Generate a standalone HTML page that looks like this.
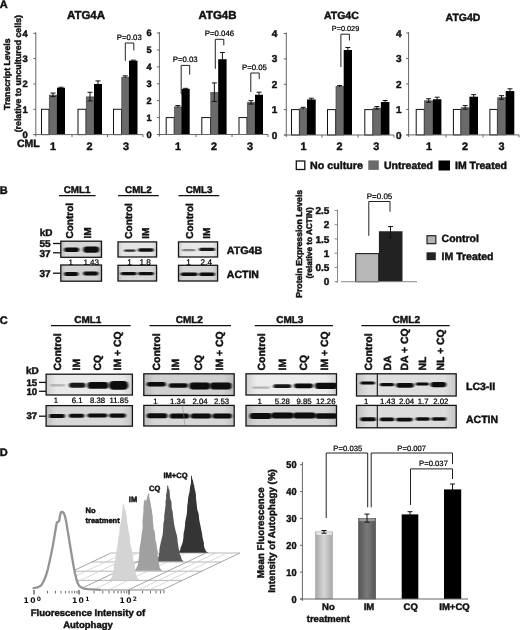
<!DOCTYPE html>
<html><head><meta charset="utf-8"><title>Figure</title>
<style>
html,body{margin:0;padding:0;background:#fff;}
body{width:520px;height:630px;overflow:hidden;}
svg{display:block;filter:blur(0.45px);}
text{font-family:"Liberation Sans",Arial,sans-serif;text-rendering:geometricPrecision;}
</style></head><body>
<svg width="520" height="630" viewBox="0 0 520 630">
<defs>
<filter id="b1" x="-20%" y="-80%" width="140%" height="260%"><feGaussianBlur stdDeviation="0.8 0.55"/></filter>
<linearGradient id="eg" x1="0" x2="1" y1="0" y2="0"><stop offset="0" stop-color="#000" stop-opacity="0.12"/><stop offset="0.12" stop-color="#000" stop-opacity="0"/><stop offset="0.88" stop-color="#000" stop-opacity="0"/><stop offset="1" stop-color="#000" stop-opacity="0.1"/></linearGradient>
</defs>
<rect width="520" height="630" fill="#fff"/>
<g id="panelA">
<text x="-0.3" y="8.3" font-size="11" font-weight="bold" stroke="#111" stroke-width="0.45" text-anchor="start" fill="#111" >A</text>
<text x="10.5" y="74.2" font-size="8.7" font-weight="bold" stroke="#111" stroke-width="0.45" text-anchor="middle" fill="#111" transform="rotate(-90 10.5 74.2)" >Transcript Levels</text>
<text x="20.8" y="73.7" font-size="8.8" font-weight="bold" stroke="#111" stroke-width="0.45" text-anchor="middle" fill="#111" transform="rotate(-90 20.8 73.7)" >(relative to uncultured cells)</text>
<rect x="41.50" y="109.27" width="7.50" height="25.33" fill="#fff" stroke="#111" stroke-width="1" />
<rect x="49.30" y="95.14" width="7.70" height="39.46" fill="#6a6a6a" stroke="#484848" stroke-width="0.7" />
<line x1="53.0" y1="93.067" x2="53.0" y2="96.6125" stroke="#111" stroke-width="1" />
<line x1="50.5" y1="93.067" x2="55.5" y2="93.067" stroke="#111" stroke-width="1" />
<line x1="50.5" y1="96.6125" x2="55.5" y2="96.6125" stroke="#111" stroke-width="1" />
<rect x="57.00" y="87.75" width="8.00" height="46.85" fill="#000" stroke="none" stroke-width="1" />
<line x1="61.0" y1="87.24225" x2="61.0" y2="88.25525" stroke="#111" stroke-width="1" />
<line x1="58.5" y1="87.24225" x2="63.5" y2="87.24225" stroke="#111" stroke-width="1" />
<rect x="78.00" y="109.27" width="8.00" height="25.33" fill="#fff" stroke="#111" stroke-width="1" />
<rect x="86.30" y="96.91" width="7.70" height="37.69" fill="#6a6a6a" stroke="#484848" stroke-width="0.7" />
<line x1="90.0" y1="92.30725" x2="90.0" y2="100.91775" stroke="#111" stroke-width="1" />
<line x1="87.5" y1="92.30725" x2="92.5" y2="92.30725" stroke="#111" stroke-width="1" />
<line x1="87.5" y1="100.91775" x2="92.5" y2="100.91775" stroke="#111" stroke-width="1" />
<rect x="94.00" y="83.95" width="8.00" height="50.65" fill="#000" stroke="none" stroke-width="1" />
<line x1="98.0" y1="80.91099999999999" x2="98.0" y2="85.94999999999999" stroke="#111" stroke-width="1" />
<line x1="95.5" y1="80.91099999999999" x2="100.5" y2="80.91099999999999" stroke="#111" stroke-width="1" />
<rect x="113.50" y="109.27" width="8.00" height="25.33" fill="#fff" stroke="#111" stroke-width="1" />
<rect x="121.80" y="77.16" width="7.20" height="57.44" fill="#6a6a6a" stroke="#484848" stroke-width="0.7" />
<line x1="125.25" y1="75.846" x2="125.25" y2="77.87200000000001" stroke="#111" stroke-width="1" />
<line x1="122.75" y1="75.846" x2="127.75" y2="75.846" stroke="#111" stroke-width="1" />
<rect x="129.00" y="60.65" width="8.50" height="73.95" fill="#000" stroke="none" stroke-width="1" />
<line x1="133.25" y1="60.144499999999994" x2="133.25" y2="61.1575" stroke="#111" stroke-width="1" />
<line x1="130.75" y1="60.144499999999994" x2="135.75" y2="60.144499999999994" stroke="#111" stroke-width="1" />
<line x1="35.8" y1="32.3" x2="35.8" y2="136.6" stroke="#666" stroke-width="1" />
<line x1="33.8" y1="134.6" x2="143" y2="134.6" stroke="#666" stroke-width="1" />
<line x1="33.3" y1="134.6" x2="35.8" y2="134.6" stroke="#666" stroke-width="1" />
<text x="27.799999999999997" y="137.98399999999998" font-size="9.4" font-weight="bold" stroke="#111" stroke-width="0.45" text-anchor="end" fill="#111" >0</text>
<line x1="33.3" y1="109.27499999999999" x2="35.8" y2="109.27499999999999" stroke="#666" stroke-width="1" />
<text x="27.799999999999997" y="112.65899999999999" font-size="9.4" font-weight="bold" stroke="#111" stroke-width="0.45" text-anchor="end" fill="#111" >1</text>
<line x1="33.3" y1="83.94999999999999" x2="35.8" y2="83.94999999999999" stroke="#666" stroke-width="1" />
<text x="27.799999999999997" y="87.33399999999999" font-size="9.4" font-weight="bold" stroke="#111" stroke-width="0.45" text-anchor="end" fill="#111" >2</text>
<line x1="33.3" y1="58.625" x2="35.8" y2="58.625" stroke="#666" stroke-width="1" />
<text x="27.799999999999997" y="62.009" font-size="9.4" font-weight="bold" stroke="#111" stroke-width="0.45" text-anchor="end" fill="#111" >3</text>
<line x1="33.3" y1="33.3" x2="35.8" y2="33.3" stroke="#666" stroke-width="1" />
<text x="27.799999999999997" y="36.684" font-size="9.4" font-weight="bold" stroke="#111" stroke-width="0.45" text-anchor="end" fill="#111" >4</text>
<line x1="72" y1="134.6" x2="72" y2="137.1" stroke="#666" stroke-width="1" />
<line x1="107.5" y1="134.6" x2="107.5" y2="137.1" stroke="#666" stroke-width="1" />
<line x1="143" y1="134.6" x2="143" y2="137.1" stroke="#666" stroke-width="1" />
<text x="53" y="150.3" font-size="10.8" font-weight="bold" stroke="#111" stroke-width="0.45" text-anchor="middle" fill="#111" >1</text>
<text x="89.5" y="150.3" font-size="10.8" font-weight="bold" stroke="#111" stroke-width="0.45" text-anchor="middle" fill="#111" >2</text>
<text x="126" y="150.3" font-size="10.8" font-weight="bold" stroke="#111" stroke-width="0.45" text-anchor="middle" fill="#111" >3</text>
<text x="86" y="19.4" font-size="11.5" font-weight="bold" stroke="#111" stroke-width="0.45" text-anchor="middle" fill="#111" >ATG4A</text>
<text x="17" y="146.6" font-size="10.5" font-weight="bold" stroke="#111" stroke-width="0.45" text-anchor="start" fill="#111" >CML</text>
<polyline points="125.3,60.8 125.3,43.0 133.8,43.0 133.8,50.4" fill="none" stroke="#222" stroke-width="1" />
<text x="129.3" y="39.8" font-size="7.8" stroke="#000" stroke-width="0.22" text-anchor="middle" fill="#000" >P=0.03</text>
<rect x="166.20" y="117.58" width="8.00" height="16.92" fill="#fff" stroke="#111" stroke-width="1" />
<rect x="174.50" y="106.89" width="7.00" height="27.61" fill="#6a6a6a" stroke="#484848" stroke-width="0.7" />
<line x1="177.85" y1="105.5725" x2="177.85" y2="107.6025" stroke="#111" stroke-width="1" />
<line x1="175.35" y1="105.5725" x2="180.35" y2="105.5725" stroke="#111" stroke-width="1" />
<rect x="181.50" y="88.82" width="8.20" height="45.68" fill="#000" stroke="none" stroke-width="1" />
<line x1="185.6" y1="88.3175" x2="185.6" y2="89.33249999999998" stroke="#111" stroke-width="1" />
<line x1="183.1" y1="88.3175" x2="188.1" y2="88.3175" stroke="#111" stroke-width="1" />
<rect x="201.80" y="117.58" width="8.70" height="16.92" fill="#fff" stroke="#111" stroke-width="1" />
<rect x="210.80" y="92.51" width="7.40" height="41.99" fill="#6a6a6a" stroke="#484848" stroke-width="0.7" />
<line x1="214.35" y1="82.90416666666665" x2="214.35" y2="101.5125" stroke="#111" stroke-width="1" />
<line x1="211.85" y1="82.90416666666665" x2="216.85" y2="82.90416666666665" stroke="#111" stroke-width="1" />
<line x1="211.85" y1="101.5125" x2="216.85" y2="101.5125" stroke="#111" stroke-width="1" />
<rect x="218.20" y="59.22" width="8.40" height="75.28" fill="#000" stroke="none" stroke-width="1" />
<line x1="222.39999999999998" y1="52.454166666666666" x2="222.39999999999998" y2="61.22083333333333" stroke="#111" stroke-width="1" />
<line x1="219.89999999999998" y1="52.454166666666666" x2="224.89999999999998" y2="52.454166666666666" stroke="#111" stroke-width="1" />
<rect x="239.00" y="117.58" width="8.00" height="16.92" fill="#fff" stroke="#111" stroke-width="1" />
<rect x="247.30" y="102.66" width="7.70" height="31.84" fill="#6a6a6a" stroke="#484848" stroke-width="0.7" />
<line x1="251.0" y1="100.66666666666667" x2="251.0" y2="104.05" stroke="#111" stroke-width="1" />
<line x1="248.5" y1="100.66666666666667" x2="253.5" y2="100.66666666666667" stroke="#111" stroke-width="1" />
<line x1="248.5" y1="104.05" x2="253.5" y2="104.05" stroke="#111" stroke-width="1" />
<rect x="255.00" y="94.75" width="8.00" height="39.75" fill="#000" stroke="none" stroke-width="1" />
<line x1="259.0" y1="92.20833333333334" x2="259.0" y2="96.74583333333334" stroke="#111" stroke-width="1" />
<line x1="256.5" y1="92.20833333333334" x2="261.5" y2="92.20833333333334" stroke="#111" stroke-width="1" />
<line x1="159.4" y1="32" x2="159.4" y2="136.5" stroke="#666" stroke-width="1" />
<line x1="157.4" y1="134.5" x2="268" y2="134.5" stroke="#666" stroke-width="1" />
<line x1="156.9" y1="134.5" x2="159.4" y2="134.5" stroke="#666" stroke-width="1" />
<text x="151.6" y="137.812" font-size="9.2" font-weight="bold" stroke="#111" stroke-width="0.45" text-anchor="end" fill="#111" >0</text>
<line x1="156.9" y1="117.58333333333333" x2="159.4" y2="117.58333333333333" stroke="#666" stroke-width="1" />
<text x="151.6" y="120.89533333333333" font-size="9.2" font-weight="bold" stroke="#111" stroke-width="0.45" text-anchor="end" fill="#111" >1</text>
<line x1="156.9" y1="100.66666666666666" x2="159.4" y2="100.66666666666666" stroke="#666" stroke-width="1" />
<text x="151.6" y="103.97866666666665" font-size="9.2" font-weight="bold" stroke="#111" stroke-width="0.45" text-anchor="end" fill="#111" >2</text>
<line x1="156.9" y1="83.75" x2="159.4" y2="83.75" stroke="#666" stroke-width="1" />
<text x="151.6" y="87.062" font-size="9.2" font-weight="bold" stroke="#111" stroke-width="0.45" text-anchor="end" fill="#111" >3</text>
<line x1="156.9" y1="66.83333333333333" x2="159.4" y2="66.83333333333333" stroke="#666" stroke-width="1" />
<text x="151.6" y="70.14533333333333" font-size="9.2" font-weight="bold" stroke="#111" stroke-width="0.45" text-anchor="end" fill="#111" >4</text>
<line x1="156.9" y1="49.91666666666666" x2="159.4" y2="49.91666666666666" stroke="#666" stroke-width="1" />
<text x="151.6" y="53.228666666666655" font-size="9.2" font-weight="bold" stroke="#111" stroke-width="0.45" text-anchor="end" fill="#111" >5</text>
<line x1="156.9" y1="33.0" x2="159.4" y2="33.0" stroke="#666" stroke-width="1" />
<text x="151.6" y="36.312" font-size="9.2" font-weight="bold" stroke="#111" stroke-width="0.45" text-anchor="end" fill="#111" >6</text>
<line x1="196" y1="134.5" x2="196" y2="137.0" stroke="#666" stroke-width="1" />
<line x1="232" y1="134.5" x2="232" y2="137.0" stroke="#666" stroke-width="1" />
<line x1="268" y1="134.5" x2="268" y2="137.0" stroke="#666" stroke-width="1" />
<text x="178" y="150.3" font-size="10.8" font-weight="bold" stroke="#111" stroke-width="0.45" text-anchor="middle" fill="#111" >1</text>
<text x="214" y="150.3" font-size="10.8" font-weight="bold" stroke="#111" stroke-width="0.45" text-anchor="middle" fill="#111" >2</text>
<text x="250" y="150.3" font-size="10.8" font-weight="bold" stroke="#111" stroke-width="0.45" text-anchor="middle" fill="#111" >3</text>
<text x="217.5" y="19" font-size="11.5" font-weight="bold" stroke="#111" stroke-width="0.45" text-anchor="middle" fill="#111" >ATG4B</text>
<polyline points="181.2,94.2 181.2,65.4 189.7,65.4 189.7,74.6" fill="none" stroke="#222" stroke-width="1" />
<text x="185.2" y="62.3" font-size="7.8" stroke="#000" stroke-width="0.22" text-anchor="middle" fill="#000" >P=0.03</text>
<polyline points="215.3,68.8 215.3,39.3 223.8,39.3 223.8,45.3" fill="none" stroke="#222" stroke-width="1" />
<text x="219.5" y="36.3" font-size="7.8" stroke="#000" stroke-width="0.22" text-anchor="middle" fill="#000" >P=0.046</text>
<polyline points="250.8,92.0 250.8,73.0 259.2,73.0 259.2,79.2" fill="none" stroke="#222" stroke-width="1" />
<text x="254.5" y="70" font-size="7.8" stroke="#000" stroke-width="0.22" text-anchor="middle" fill="#000" >P=0.05</text>
<rect x="291.50" y="109.62" width="7.90" height="25.38" fill="#fff" stroke="#111" stroke-width="1" />
<rect x="299.70" y="108.66" width="7.30" height="26.34" fill="#6a6a6a" stroke="#484848" stroke-width="0.7" />
<line x1="303.2" y1="107.34125" x2="303.2" y2="109.37125" stroke="#111" stroke-width="1" />
<line x1="300.7" y1="107.34125" x2="305.7" y2="107.34125" stroke="#111" stroke-width="1" />
<rect x="307.00" y="99.47" width="8.70" height="35.53" fill="#000" stroke="none" stroke-width="1" />
<line x1="311.35" y1="98.20625" x2="311.35" y2="100.74374999999999" stroke="#111" stroke-width="1" />
<line x1="308.85" y1="98.20625" x2="313.85" y2="98.20625" stroke="#111" stroke-width="1" />
<rect x="327.50" y="109.62" width="8.20" height="25.38" fill="#fff" stroke="#111" stroke-width="1" />
<rect x="336.00" y="86.58" width="7.70" height="48.42" fill="#6a6a6a" stroke="#484848" stroke-width="0.7" />
<line x1="339.7" y1="85.51875" x2="339.7" y2="87.04125" stroke="#111" stroke-width="1" />
<line x1="337.2" y1="85.51875" x2="342.2" y2="85.51875" stroke="#111" stroke-width="1" />
<rect x="343.70" y="49.99" width="8.30" height="85.01" fill="#000" stroke="none" stroke-width="1" />
<line x1="347.85" y1="47.45624999999999" x2="347.85" y2="51.99374999999999" stroke="#111" stroke-width="1" />
<line x1="345.35" y1="47.45624999999999" x2="350.35" y2="47.45624999999999" stroke="#111" stroke-width="1" />
<rect x="364.80" y="109.62" width="8.10" height="25.38" fill="#fff" stroke="#111" stroke-width="1" />
<rect x="373.20" y="108.15" width="7.70" height="26.85" fill="#6a6a6a" stroke="#484848" stroke-width="0.7" />
<line x1="376.9" y1="106.58" x2="376.9" y2="109.11749999999999" stroke="#111" stroke-width="1" />
<line x1="374.4" y1="106.58" x2="379.4" y2="106.58" stroke="#111" stroke-width="1" />
<line x1="374.4" y1="109.11749999999999" x2="379.4" y2="109.11749999999999" stroke="#111" stroke-width="1" />
<rect x="380.90" y="102.01" width="8.50" height="32.99" fill="#000" stroke="none" stroke-width="1" />
<line x1="385.15" y1="100.49" x2="385.15" y2="103.53499999999998" stroke="#111" stroke-width="1" />
<line x1="382.65" y1="100.49" x2="387.65" y2="100.49" stroke="#111" stroke-width="1" />
<line x1="286.3" y1="32.5" x2="286.3" y2="137" stroke="#666" stroke-width="1" />
<line x1="284.3" y1="135" x2="394" y2="135" stroke="#666" stroke-width="1" />
<line x1="283.8" y1="135.0" x2="286.3" y2="135.0" stroke="#666" stroke-width="1" />
<text x="277.3" y="138.6" font-size="10" font-weight="bold" stroke="#111" stroke-width="0.45" text-anchor="end" fill="#111" >0</text>
<line x1="283.8" y1="109.625" x2="286.3" y2="109.625" stroke="#666" stroke-width="1" />
<text x="277.3" y="113.225" font-size="10" font-weight="bold" stroke="#111" stroke-width="0.45" text-anchor="end" fill="#111" >1</text>
<line x1="283.8" y1="84.25" x2="286.3" y2="84.25" stroke="#666" stroke-width="1" />
<text x="277.3" y="87.85" font-size="10" font-weight="bold" stroke="#111" stroke-width="0.45" text-anchor="end" fill="#111" >2</text>
<line x1="283.8" y1="58.875" x2="286.3" y2="58.875" stroke="#666" stroke-width="1" />
<text x="277.3" y="62.475" font-size="10" font-weight="bold" stroke="#111" stroke-width="0.45" text-anchor="end" fill="#111" >3</text>
<line x1="283.8" y1="33.5" x2="286.3" y2="33.5" stroke="#666" stroke-width="1" />
<text x="277.3" y="37.1" font-size="10" font-weight="bold" stroke="#111" stroke-width="0.45" text-anchor="end" fill="#111" >4</text>
<line x1="322" y1="135" x2="322" y2="137.5" stroke="#666" stroke-width="1" />
<line x1="358" y1="135" x2="358" y2="137.5" stroke="#666" stroke-width="1" />
<line x1="394" y1="135" x2="394" y2="137.5" stroke="#666" stroke-width="1" />
<text x="303.4" y="150.3" font-size="10.8" font-weight="bold" stroke="#111" stroke-width="0.45" text-anchor="middle" fill="#111" >1</text>
<text x="339.4" y="150.3" font-size="10.8" font-weight="bold" stroke="#111" stroke-width="0.45" text-anchor="middle" fill="#111" >2</text>
<text x="376.3" y="150.3" font-size="10.8" font-weight="bold" stroke="#111" stroke-width="0.45" text-anchor="middle" fill="#111" >3</text>
<text x="341.4" y="19.2" font-size="10.5" font-weight="bold" stroke="#111" stroke-width="0.45" text-anchor="middle" fill="#111" >ATG4C</text>
<polyline points="340.9,67.0 340.9,34.2 349.4,34.2 349.4,40.5" fill="none" stroke="#222" stroke-width="1" />
<text x="345.5" y="31" font-size="7.3" stroke="#000" stroke-width="0.22" text-anchor="middle" fill="#000" >P=0.029</text>
<rect x="416.20" y="109.43" width="8.10" height="25.47" fill="#fff" stroke="#111" stroke-width="1" />
<rect x="424.60" y="100.81" width="8.30" height="34.09" fill="#6a6a6a" stroke="#484848" stroke-width="0.7" />
<line x1="428.6" y1="98.7255" x2="428.6" y2="102.29199999999999" stroke="#111" stroke-width="1" />
<line x1="426.1" y1="98.7255" x2="431.1" y2="98.7255" stroke="#111" stroke-width="1" />
<line x1="426.1" y1="102.29199999999999" x2="431.1" y2="102.29199999999999" stroke="#111" stroke-width="1" />
<rect x="432.90" y="99.24" width="8.50" height="35.66" fill="#000" stroke="none" stroke-width="1" />
<line x1="437.15" y1="97.19700000000002" x2="437.15" y2="101.23500000000001" stroke="#111" stroke-width="1" />
<line x1="434.65" y1="97.19700000000002" x2="439.65" y2="97.19700000000002" stroke="#111" stroke-width="1" />
<rect x="453.40" y="109.43" width="7.50" height="25.47" fill="#fff" stroke="#111" stroke-width="1" />
<rect x="461.20" y="107.69" width="8.20" height="27.21" fill="#6a6a6a" stroke="#484848" stroke-width="0.7" />
<line x1="465.15" y1="105.60375" x2="465.15" y2="109.17025" stroke="#111" stroke-width="1" />
<line x1="462.65" y1="105.60375" x2="467.65" y2="105.60375" stroke="#111" stroke-width="1" />
<line x1="462.65" y1="109.17025" x2="467.65" y2="109.17025" stroke="#111" stroke-width="1" />
<rect x="469.40" y="96.69" width="8.60" height="38.21" fill="#000" stroke="none" stroke-width="1" />
<line x1="473.7" y1="94.6495" x2="473.7" y2="98.6875" stroke="#111" stroke-width="1" />
<line x1="471.2" y1="94.6495" x2="476.2" y2="94.6495" stroke="#111" stroke-width="1" />
<rect x="489.90" y="109.43" width="7.50" height="25.47" fill="#fff" stroke="#111" stroke-width="1" />
<rect x="497.70" y="97.75" width="8.00" height="37.15" fill="#6a6a6a" stroke="#484848" stroke-width="0.7" />
<line x1="501.54999999999995" y1="95.66850000000001" x2="501.54999999999995" y2="99.235" stroke="#111" stroke-width="1" />
<line x1="499.04999999999995" y1="95.66850000000001" x2="504.04999999999995" y2="95.66850000000001" stroke="#111" stroke-width="1" />
<line x1="499.04999999999995" y1="99.235" x2="504.04999999999995" y2="99.235" stroke="#111" stroke-width="1" />
<rect x="505.70" y="91.08" width="8.60" height="43.82" fill="#000" stroke="none" stroke-width="1" />
<line x1="510.0" y1="88.79025" x2="510.0" y2="93.083" stroke="#111" stroke-width="1" />
<line x1="507.5" y1="88.79025" x2="512.5" y2="88.79025" stroke="#111" stroke-width="1" />
<line x1="408.6" y1="32" x2="408.6" y2="136.9" stroke="#666" stroke-width="1" />
<line x1="406.6" y1="134.9" x2="519" y2="134.9" stroke="#666" stroke-width="1" />
<line x1="406.1" y1="134.9" x2="408.6" y2="134.9" stroke="#666" stroke-width="1" />
<text x="401.6" y="138.5" font-size="10" font-weight="bold" stroke="#111" stroke-width="0.45" text-anchor="end" fill="#111" >0</text>
<line x1="406.1" y1="109.42500000000001" x2="408.6" y2="109.42500000000001" stroke="#666" stroke-width="1" />
<text x="401.6" y="113.025" font-size="10" font-weight="bold" stroke="#111" stroke-width="0.45" text-anchor="end" fill="#111" >1</text>
<line x1="406.1" y1="83.95" x2="408.6" y2="83.95" stroke="#666" stroke-width="1" />
<text x="401.6" y="87.55" font-size="10" font-weight="bold" stroke="#111" stroke-width="0.45" text-anchor="end" fill="#111" >2</text>
<line x1="406.1" y1="58.474999999999994" x2="408.6" y2="58.474999999999994" stroke="#666" stroke-width="1" />
<text x="401.6" y="62.074999999999996" font-size="10" font-weight="bold" stroke="#111" stroke-width="0.45" text-anchor="end" fill="#111" >3</text>
<line x1="406.1" y1="33.0" x2="408.6" y2="33.0" stroke="#666" stroke-width="1" />
<text x="401.6" y="36.6" font-size="10" font-weight="bold" stroke="#111" stroke-width="0.45" text-anchor="end" fill="#111" >4</text>
<line x1="446" y1="134.9" x2="446" y2="137.4" stroke="#666" stroke-width="1" />
<line x1="483" y1="134.9" x2="483" y2="137.4" stroke="#666" stroke-width="1" />
<line x1="519" y1="134.9" x2="519" y2="137.4" stroke="#666" stroke-width="1" />
<text x="429" y="150.3" font-size="10.8" font-weight="bold" stroke="#111" stroke-width="0.45" text-anchor="middle" fill="#111" >1</text>
<text x="465" y="150.3" font-size="10.8" font-weight="bold" stroke="#111" stroke-width="0.45" text-anchor="middle" fill="#111" >2</text>
<text x="501.4" y="150.3" font-size="10.8" font-weight="bold" stroke="#111" stroke-width="0.45" text-anchor="middle" fill="#111" >3</text>
<text x="463" y="20.6" font-size="10.5" font-weight="bold" stroke="#111" stroke-width="0.45" text-anchor="middle" fill="#111" >ATG4D</text>
<rect x="296.30" y="161.00" width="8.50" height="8.50" fill="#fff" stroke="#111" stroke-width="1.3" />
<text x="310" y="169" font-size="10.7" font-weight="bold" stroke="#111" stroke-width="0.45" text-anchor="start" fill="#111" >No culture</text>
<rect x="368.30" y="160.40" width="10.50" height="9.50" fill="#6a6a6a" stroke="none" stroke-width="1" />
<text x="384" y="169" font-size="10.5" font-weight="bold" stroke="#111" stroke-width="0.45" text-anchor="start" fill="#111" >Untreated</text>
<rect x="438.50" y="160.50" width="11.50" height="10.00" fill="#000" stroke="none" stroke-width="1" />
<text x="455" y="169" font-size="10.5" font-weight="bold" stroke="#111" stroke-width="0.45" text-anchor="start" fill="#111" >IM Treated</text>
</g>
<g id="panelB">
<text x="-0.2" y="194" font-size="11" font-weight="bold" stroke="#111" stroke-width="0.45" text-anchor="start" fill="#111" >B</text>
<text x="77" y="192.8" font-size="9.8" font-weight="bold" stroke="#111" stroke-width="0.45" text-anchor="middle" fill="#111" >CML1</text>
<line x1="59" y1="195.5" x2="95.6" y2="195.5" stroke="#111" stroke-width="1.25" />
<text x="73.1" y="238.5" font-size="10" font-weight="bold" stroke="#111" stroke-width="0.45" text-anchor="start" fill="#111" transform="rotate(-90 73.1 238.5)" >Control</text>
<text x="91.1" y="238.5" font-size="10" font-weight="bold" stroke="#111" stroke-width="0.45" text-anchor="start" fill="#111" transform="rotate(-90 91.1 238.5)" >IM</text>
<text x="39.8" y="235.5" font-size="10" font-weight="bold" stroke="#111" stroke-width="0.45" text-anchor="start" fill="#111" >kD</text>
<text x="39.5" y="247.2" font-size="10" font-weight="bold" stroke="#111" stroke-width="0.45" text-anchor="start" fill="#111" >55</text>
<line x1="53" y1="243.5" x2="60.8" y2="243.5" stroke="#111" stroke-width="1.3" />
<text x="39.5" y="257.2" font-size="10" font-weight="bold" stroke="#111" stroke-width="0.45" text-anchor="start" fill="#111" >37</text>
<line x1="53" y1="252.8" x2="60.8" y2="252.8" stroke="#111" stroke-width="1.3" />
<text x="39.5" y="277.2" font-size="10" font-weight="bold" stroke="#111" stroke-width="0.45" text-anchor="start" fill="#111" >37</text>
<line x1="53" y1="273.2" x2="60.8" y2="273.2" stroke="#111" stroke-width="1.3" />
<clipPath id="cl1"><rect x="60.8" y="241.2" width="40.7" height="16.1"/></clipPath>
<rect x="60.80" y="241.20" width="40.70" height="16.10" fill="#d6d6d6" stroke="none" stroke-width="1" />
<g clip-path="url(#cl1)">
<rect x="60.80" y="241.20" width="40.70" height="16.10" fill="url(#eg)" stroke="none" stroke-width="1" />
<rect x="64.0" y="247.6" width="15.2" height="4.4" rx="2.2" fill="#0c0c0c" opacity="1" filter="url(#b1)"/>
<rect x="83.2" y="246.4" width="16.0" height="6.4" rx="3.2" fill="#0c0c0c" opacity="1" filter="url(#b1)"/>
</g>
<rect x="60.80" y="241.20" width="40.70" height="16.10" fill="none" stroke="#161616" stroke-width="1.3" />
<clipPath id="cl2"><rect x="60.8" y="265" width="40.7" height="16.2"/></clipPath>
<rect x="60.80" y="265.00" width="40.70" height="16.20" fill="#d2d2d2" stroke="none" stroke-width="1" />
<g clip-path="url(#cl2)">
<rect x="60.80" y="265.00" width="40.70" height="16.20" fill="url(#eg)" stroke="none" stroke-width="1" />
<rect x="64.0" y="272.1" width="14.5" height="3.8" rx="1.9" fill="#0c0c0c" opacity="1" filter="url(#b1)"/>
<rect x="83.2" y="271.6" width="15.1" height="4.0" rx="2.0" fill="#0c0c0c" opacity="1" filter="url(#b1)"/>
</g>
<rect x="60.80" y="265.00" width="40.70" height="16.20" fill="none" stroke="#161616" stroke-width="1.3" />
<text x="138.4" y="192.8" font-size="9.8" font-weight="bold" stroke="#111" stroke-width="0.45" text-anchor="middle" fill="#111" >CML2</text>
<line x1="118" y1="195.5" x2="158.8" y2="195.5" stroke="#111" stroke-width="1.25" />
<text x="132.0" y="238.7" font-size="10" font-weight="bold" stroke="#111" stroke-width="0.45" text-anchor="start" fill="#111" transform="rotate(-90 132.0 238.7)" >Control</text>
<text x="149.4" y="238.7" font-size="10" font-weight="bold" stroke="#111" stroke-width="0.45" text-anchor="start" fill="#111" transform="rotate(-90 149.4 238.7)" >IM</text>
<clipPath id="cl3"><rect x="118" y="241.9" width="38.6" height="15.1"/></clipPath>
<rect x="118.00" y="241.90" width="38.60" height="15.10" fill="#e4e4e4" stroke="none" stroke-width="1" />
<g clip-path="url(#cl3)">
<rect x="118.00" y="241.90" width="38.60" height="15.10" fill="url(#eg)" stroke="none" stroke-width="1" />
<rect x="124.0" y="249.6" width="11.6" height="2.2" rx="1.1" fill="#0c0c0c" opacity="0.85" filter="url(#b1)"/>
<rect x="138.0" y="248.2" width="15.8" height="3.6" rx="1.8" fill="#0c0c0c" opacity="1" filter="url(#b1)"/>
</g>
<rect x="118.00" y="241.90" width="38.60" height="15.10" fill="none" stroke="#161616" stroke-width="1.3" />
<clipPath id="cl4"><rect x="118" y="265.3" width="38.6" height="15.7"/></clipPath>
<rect x="118.00" y="265.30" width="38.60" height="15.70" fill="#d6d6d6" stroke="none" stroke-width="1" />
<g clip-path="url(#cl4)">
<rect x="118.00" y="265.30" width="38.60" height="15.70" fill="url(#eg)" stroke="none" stroke-width="1" />
<rect x="120.6" y="271.9" width="16.1" height="3.4" rx="1.7" fill="#0c0c0c" opacity="1" filter="url(#b1)"/>
<rect x="138.0" y="271.9" width="15.8" height="3.4" rx="1.7" fill="#0c0c0c" opacity="1" filter="url(#b1)"/>
</g>
<rect x="118.00" y="265.30" width="38.60" height="15.70" fill="none" stroke="#161616" stroke-width="1.3" />
<text x="199" y="192.8" font-size="9.8" font-weight="bold" stroke="#111" stroke-width="0.45" text-anchor="middle" fill="#111" >CML3</text>
<line x1="178.5" y1="195.5" x2="219.3" y2="195.5" stroke="#111" stroke-width="1.25" />
<text x="192.6" y="238.7" font-size="10" font-weight="bold" stroke="#111" stroke-width="0.45" text-anchor="start" fill="#111" transform="rotate(-90 192.6 238.7)" >Control</text>
<text x="209.79999999999998" y="238.7" font-size="10" font-weight="bold" stroke="#111" stroke-width="0.45" text-anchor="start" fill="#111" transform="rotate(-90 209.79999999999998 238.7)" >IM</text>
<clipPath id="cl5"><rect x="178.5" y="241.9" width="39.1" height="15.1"/></clipPath>
<rect x="178.50" y="241.90" width="39.10" height="15.10" fill="#e8e8e8" stroke="none" stroke-width="1" />
<g clip-path="url(#cl5)">
<rect x="178.50" y="241.90" width="39.10" height="15.10" fill="url(#eg)" stroke="none" stroke-width="1" />
<rect x="182.0" y="249.1" width="13.4" height="2.2" rx="1.1" fill="#0c0c0c" opacity="0.45" filter="url(#b1)"/>
<rect x="199.0" y="247.8" width="16.0" height="3.3" rx="1.6" fill="#0c0c0c" opacity="0.95" filter="url(#b1)"/>
</g>
<rect x="178.50" y="241.90" width="39.10" height="15.10" fill="none" stroke="#161616" stroke-width="1.3" />
<clipPath id="cl6"><rect x="178.5" y="265.3" width="39.1" height="15.7"/></clipPath>
<rect x="178.50" y="265.30" width="39.10" height="15.70" fill="#d4d4d4" stroke="none" stroke-width="1" />
<g clip-path="url(#cl6)">
<rect x="178.50" y="265.30" width="39.10" height="15.70" fill="url(#eg)" stroke="none" stroke-width="1" />
<rect x="180.6" y="272.5" width="17.1" height="3.6" rx="1.8" fill="#0c0c0c" opacity="1" filter="url(#b1)"/>
<rect x="199.0" y="272.5" width="16.0" height="3.6" rx="1.8" fill="#0c0c0c" opacity="1" filter="url(#b1)"/>
</g>
<rect x="178.50" y="265.30" width="39.10" height="15.70" fill="none" stroke="#161616" stroke-width="1.3" />
<text x="70.8" y="265.1" font-size="8" stroke="#000" stroke-width="0.22" text-anchor="middle" fill="#000" >1</text>
<text x="91.2" y="265.1" font-size="8" stroke="#000" stroke-width="0.22" text-anchor="middle" fill="#000" >1.43</text>
<text x="129.6" y="265.1" font-size="8.2" stroke="#000" stroke-width="0.22" text-anchor="middle" fill="#000" >1</text>
<text x="145.2" y="265.1" font-size="8.2" stroke="#000" stroke-width="0.22" text-anchor="middle" fill="#000" >1.8</text>
<text x="188.5" y="265.1" font-size="8.2" stroke="#000" stroke-width="0.22" text-anchor="middle" fill="#000" >1</text>
<text x="206.3" y="265.1" font-size="8.2" stroke="#000" stroke-width="0.22" text-anchor="middle" fill="#000" >2.4</text>
<text x="226.8" y="254.4" font-size="10.7" font-weight="bold" stroke="#111" stroke-width="0.45" text-anchor="start" fill="#111" >ATG4B</text>
<text x="226.8" y="277.5" font-size="10.5" font-weight="bold" stroke="#111" stroke-width="0.45" text-anchor="start" fill="#111" >ACTIN</text>
<text x="302.3" y="243.8" font-size="8.65" font-weight="bold" stroke="#111" stroke-width="0.45" text-anchor="middle" fill="#111" transform="rotate(-90 302.3 243.8)" >Protein Expression Levels</text>
<text x="312.5" y="242.9" font-size="8.2" font-weight="bold" stroke="#111" stroke-width="0.45" text-anchor="middle" fill="#111" transform="rotate(-90 312.5 242.9)" >(relative to ACTIN)</text>
<rect x="355.70" y="253.60" width="23.00" height="28.10" fill="#b8b8b8" stroke="#222" stroke-width="1.1" />
<rect x="378.90" y="231.25" width="23.60" height="50.45" fill="#222" stroke="none" stroke-width="1" />
<line x1="390.5" y1="226.6" x2="390.5" y2="237.5" stroke="#111" stroke-width="1" />
<line x1="388" y1="226.6" x2="393" y2="226.6" stroke="#111" stroke-width="1" />
<line x1="388" y1="237.5" x2="393" y2="237.5" stroke="#111" stroke-width="1" />
<line x1="337.5" y1="209.5" x2="337.5" y2="283" stroke="#888" stroke-width="1" />
<line x1="341" y1="281.7" x2="417" y2="281.7" stroke="#888" stroke-width="1" />
<line x1="334.6" y1="281.7" x2="337.5" y2="281.7" stroke="#888" stroke-width="1" />
<text x="329.4" y="285.3" font-size="10" font-weight="bold" stroke="#111" stroke-width="0.45" text-anchor="end" fill="#111" >0</text>
<line x1="334.6" y1="267.45" x2="337.5" y2="267.45" stroke="#888" stroke-width="1" />
<text x="329.4" y="271.05" font-size="10" font-weight="bold" stroke="#111" stroke-width="0.45" text-anchor="end" fill="#111" >0.5</text>
<line x1="334.6" y1="253.2" x2="337.5" y2="253.2" stroke="#888" stroke-width="1" />
<text x="329.4" y="256.8" font-size="10" font-weight="bold" stroke="#111" stroke-width="0.45" text-anchor="end" fill="#111" >1</text>
<line x1="334.6" y1="238.95" x2="337.5" y2="238.95" stroke="#888" stroke-width="1" />
<text x="329.4" y="242.54999999999998" font-size="10" font-weight="bold" stroke="#111" stroke-width="0.45" text-anchor="end" fill="#111" >1.5</text>
<line x1="334.6" y1="224.7" x2="337.5" y2="224.7" stroke="#888" stroke-width="1" />
<text x="329.4" y="228.29999999999998" font-size="10" font-weight="bold" stroke="#111" stroke-width="0.45" text-anchor="end" fill="#111" >2</text>
<line x1="334.6" y1="210.45" x2="337.5" y2="210.45" stroke="#888" stroke-width="1" />
<text x="329.4" y="214.04999999999998" font-size="10" font-weight="bold" stroke="#111" stroke-width="0.45" text-anchor="end" fill="#111" >2.5</text>
<polyline points="368.8,235.8 368.8,201.5 390.0,201.5 390.0,211.7" fill="none" stroke="#222" stroke-width="1" />
<text x="379.5" y="198.8" font-size="8" stroke="#000" stroke-width="0.22" text-anchor="middle" fill="#000" >P=0.05</text>
<rect x="427.00" y="235.70" width="8.80" height="8.00" fill="#b4b4b4" stroke="#222" stroke-width="1.2" />
<text x="441.6" y="242.4" font-size="10.5" font-weight="bold" stroke="#111" stroke-width="0.45" text-anchor="start" fill="#111" >Control</text>
<rect x="426.50" y="252.30" width="9.30" height="7.90" fill="#222" stroke="none" stroke-width="1" />
<text x="441.6" y="259.7" font-size="10.5" font-weight="bold" stroke="#111" stroke-width="0.45" text-anchor="start" fill="#111" >IM Treated</text>
</g>
<g id="panelC">
<text x="-0.3" y="323.8" font-size="11" font-weight="bold" stroke="#111" stroke-width="0.45" text-anchor="start" fill="#111" >C</text>
<text x="87.8" y="323.1" font-size="10" font-weight="bold" stroke="#111" stroke-width="0.45" text-anchor="middle" fill="#111" >CML1</text>
<line x1="51" y1="325.5" x2="130.6" y2="325.5" stroke="#111" stroke-width="1.25" />
<text x="61.5" y="370.4" font-size="10.4" font-weight="bold" stroke="#111" stroke-width="0.45" text-anchor="start" fill="#111" transform="rotate(-90 61.5 370.4)" >Control</text>
<text x="80.3" y="370.4" font-size="10.4" font-weight="bold" stroke="#111" stroke-width="0.45" text-anchor="start" fill="#111" transform="rotate(-90 80.3 370.4)" >IM</text>
<text x="101.5" y="370.4" font-size="10.4" font-weight="bold" stroke="#111" stroke-width="0.45" text-anchor="start" fill="#111" transform="rotate(-90 101.5 370.4)" >CQ</text>
<text x="121.19999999999999" y="370.4" font-size="10.4" font-weight="bold" stroke="#111" stroke-width="0.45" text-anchor="start" fill="#111" transform="rotate(-90 121.19999999999999 370.4)" >IM + CQ</text>
<text x="26" y="373.8" font-size="10" font-weight="bold" stroke="#111" stroke-width="0.45" text-anchor="start" fill="#111" >kD</text>
<text x="26.4" y="385.8" font-size="9.6" font-weight="bold" stroke="#111" stroke-width="0.45" text-anchor="start" fill="#111" >15</text>
<line x1="39" y1="382.4" x2="46.1" y2="382.4" stroke="#111" stroke-width="1.3" />
<text x="26.4" y="395.2" font-size="9.6" font-weight="bold" stroke="#111" stroke-width="0.45" text-anchor="start" fill="#111" >10</text>
<line x1="39" y1="391.3" x2="46.1" y2="391.3" stroke="#111" stroke-width="1.3" />
<text x="26.4" y="418.7" font-size="9.6" font-weight="bold" stroke="#111" stroke-width="0.45" text-anchor="start" fill="#111" >37</text>
<line x1="39" y1="416.2" x2="46.1" y2="416.2" stroke="#111" stroke-width="1.3" />
<clipPath id="cl7"><rect x="46.1" y="374.2" width="86.3" height="20.8"/></clipPath>
<rect x="46.10" y="374.20" width="86.30" height="20.80" fill="#e9e9e9" stroke="none" stroke-width="1" />
<g clip-path="url(#cl7)">
<rect x="46.10" y="374.20" width="86.30" height="20.80" fill="url(#eg)" stroke="none" stroke-width="1" />
<rect x="50.5" y="384.0" width="14.5" height="2.6" rx="1.3" fill="#0c0c0c" opacity="0.22" filter="url(#b1)"/>
<rect x="69.0" y="382.7" width="16.6" height="5.0" rx="2.5" fill="#0c0c0c" opacity="0.95" filter="url(#b1)"/>
<rect x="87.3" y="382.0" width="21.3" height="6.8" rx="3.4" fill="#0c0c0c" opacity="1" filter="url(#b1)"/>
<rect x="108.8" y="381.1" width="19.5" height="8.6" rx="4.3" fill="#0c0c0c" opacity="1" filter="url(#b1)"/>
</g>
<rect x="46.10" y="374.20" width="86.30" height="20.80" fill="none" stroke="#161616" stroke-width="1.3" />
<clipPath id="cl8"><rect x="46.1" y="405.6" width="86.3" height="20.6"/></clipPath>
<rect x="46.10" y="405.60" width="86.30" height="20.60" fill="#d8d8d8" stroke="none" stroke-width="1" />
<g clip-path="url(#cl8)">
<rect x="46.10" y="405.60" width="86.30" height="20.60" fill="url(#eg)" stroke="none" stroke-width="1" />
<rect x="49.0" y="414.0" width="16.0" height="4.0" rx="2.0" fill="#0c0c0c" opacity="1" filter="url(#b1)"/>
<rect x="68.8" y="413.8" width="15.6" height="4.0" rx="2.0" fill="#0c0c0c" opacity="1" filter="url(#b1)"/>
<rect x="87.3" y="413.4" width="20.2" height="4.2" rx="2.1" fill="#0c0c0c" opacity="1" filter="url(#b1)"/>
<rect x="109.0" y="413.5" width="17.0" height="4.2" rx="2.1" fill="#0c0c0c" opacity="1" filter="url(#b1)"/>
</g>
<rect x="46.10" y="405.60" width="86.30" height="20.60" fill="none" stroke="#161616" stroke-width="1.3" />
<text x="189.3" y="323" font-size="10" font-weight="bold" stroke="#111" stroke-width="0.45" text-anchor="middle" fill="#111" >CML2</text>
<line x1="149.5" y1="325.5" x2="231" y2="325.5" stroke="#111" stroke-width="1.25" />
<text x="160.5" y="370.4" font-size="10.4" font-weight="bold" stroke="#111" stroke-width="0.45" text-anchor="start" fill="#111" transform="rotate(-90 160.5 370.4)" >Control</text>
<text x="179.4" y="370.4" font-size="10.4" font-weight="bold" stroke="#111" stroke-width="0.45" text-anchor="start" fill="#111" transform="rotate(-90 179.4 370.4)" >IM</text>
<text x="202.29999999999998" y="370.4" font-size="10.4" font-weight="bold" stroke="#111" stroke-width="0.45" text-anchor="start" fill="#111" transform="rotate(-90 202.29999999999998 370.4)" >CQ</text>
<text x="223.0" y="370.4" font-size="10.4" font-weight="bold" stroke="#111" stroke-width="0.45" text-anchor="start" fill="#111" transform="rotate(-90 223.0 370.4)" >IM + CQ</text>
<clipPath id="cl9"><rect x="143.8" y="373.8" width="90.4" height="21.7"/></clipPath>
<rect x="143.80" y="373.80" width="90.40" height="21.70" fill="#d0d0d0" stroke="none" stroke-width="1" />
<g clip-path="url(#cl9)">
<rect x="143.80" y="373.80" width="90.40" height="21.70" fill="url(#eg)" stroke="none" stroke-width="1" />
<rect x="146.7" y="382.0" width="19.3" height="4.6" rx="2.3" fill="#0c0c0c" opacity="1" filter="url(#b1)"/>
<rect x="168.7" y="383.2" width="19.3" height="4.6" rx="2.3" fill="#0c0c0c" opacity="1" filter="url(#b1)"/>
<rect x="189.2" y="382.6" width="21.2" height="6.8" rx="3.4" fill="#0c0c0c" opacity="1" filter="url(#b1)"/>
<rect x="209.8" y="382.6" width="22.0" height="6.8" rx="3.4" fill="#0c0c0c" opacity="1" filter="url(#b1)"/>
</g>
<rect x="143.80" y="373.80" width="90.40" height="21.70" fill="none" stroke="#161616" stroke-width="1.3" />
<clipPath id="cl10"><rect x="143.8" y="405.4" width="90.4" height="20.6"/></clipPath>
<rect x="143.80" y="405.40" width="90.40" height="20.60" fill="#d6d6d6" stroke="none" stroke-width="1" />
<g clip-path="url(#cl10)">
<rect x="143.80" y="405.40" width="90.40" height="20.60" fill="url(#eg)" stroke="none" stroke-width="1" />
<rect x="146.7" y="413.3" width="20.8" height="5.0" rx="2.5" fill="#0c0c0c" opacity="1" filter="url(#b1)"/>
<rect x="169.5" y="413.5" width="20.0" height="5.0" rx="2.5" fill="#0c0c0c" opacity="1" filter="url(#b1)"/>
<rect x="190.5" y="413.5" width="21.0" height="5.0" rx="2.5" fill="#0c0c0c" opacity="1" filter="url(#b1)"/>
<rect x="212.3" y="413.5" width="19.7" height="5.0" rx="2.5" fill="#0c0c0c" opacity="1" filter="url(#b1)"/>
</g>
<line x1="182.5" y1="406" x2="185" y2="425.5" stroke="#8a8a8a" stroke-width="0.5" />
<rect x="143.80" y="405.40" width="90.40" height="20.60" fill="none" stroke="#161616" stroke-width="1.3" />
<text x="289.8" y="323" font-size="10" font-weight="bold" stroke="#111" stroke-width="0.45" text-anchor="middle" fill="#111" >CML3</text>
<line x1="254.8" y1="325.5" x2="332.9" y2="325.5" stroke="#111" stroke-width="1.25" />
<text x="264.8" y="370.4" font-size="10.4" font-weight="bold" stroke="#111" stroke-width="0.45" text-anchor="start" fill="#111" transform="rotate(-90 264.8 370.4)" >Control</text>
<text x="286.40000000000003" y="370.4" font-size="10.4" font-weight="bold" stroke="#111" stroke-width="0.45" text-anchor="start" fill="#111" transform="rotate(-90 286.40000000000003 370.4)" >IM</text>
<text x="306.8" y="370.4" font-size="10.4" font-weight="bold" stroke="#111" stroke-width="0.45" text-anchor="start" fill="#111" transform="rotate(-90 306.8 370.4)" >CQ</text>
<text x="328.40000000000003" y="370.4" font-size="10.4" font-weight="bold" stroke="#111" stroke-width="0.45" text-anchor="start" fill="#111" transform="rotate(-90 328.40000000000003 370.4)" >IM + CQ</text>
<clipPath id="cl11"><rect x="246" y="373.8" width="90.5" height="21.2"/></clipPath>
<rect x="246.00" y="373.80" width="90.50" height="21.20" fill="#ececec" stroke="none" stroke-width="1" />
<g clip-path="url(#cl11)">
<rect x="246.00" y="373.80" width="90.50" height="21.20" fill="url(#eg)" stroke="none" stroke-width="1" />
<rect x="252.5" y="386.5" width="17.1" height="2.2" rx="1.1" fill="#0c0c0c" opacity="0.25" filter="url(#b1)"/>
<rect x="273.3" y="384.2" width="18.0" height="3.9" rx="1.9" fill="#0c0c0c" opacity="0.95" filter="url(#b1)"/>
<rect x="294.0" y="383.4" width="19.3" height="4.8" rx="2.4" fill="#0c0c0c" opacity="1" filter="url(#b1)"/>
<rect x="314.8" y="382.7" width="23.2" height="6.2" rx="3.1" fill="#0c0c0c" opacity="1" filter="url(#b1)"/>
</g>
<rect x="246.00" y="373.80" width="90.50" height="21.20" fill="none" stroke="#161616" stroke-width="1.3" />
<clipPath id="cl12"><rect x="246" y="405.4" width="90.5" height="20.6"/></clipPath>
<rect x="246.00" y="405.40" width="90.50" height="20.60" fill="#d4d4d4" stroke="none" stroke-width="1" />
<g clip-path="url(#cl12)">
<rect x="246.00" y="405.40" width="90.50" height="20.60" fill="url(#eg)" stroke="none" stroke-width="1" />
<rect x="249.5" y="413.0" width="22.5" height="6.0" rx="3.0" fill="#0c0c0c" opacity="1" filter="url(#b1)"/>
<rect x="271.0" y="412.6" width="23.0" height="6.0" rx="3.0" fill="#0c0c0c" opacity="1" filter="url(#b1)"/>
<rect x="293.0" y="412.4" width="23.0" height="6.0" rx="3.0" fill="#0c0c0c" opacity="1" filter="url(#b1)"/>
<rect x="315.0" y="413.3" width="23.0" height="5.4" rx="2.7" fill="#0c0c0c" opacity="1" filter="url(#b1)"/>
</g>
<rect x="246.00" y="405.40" width="90.50" height="20.60" fill="none" stroke="#161616" stroke-width="1.3" />
<text x="406.3" y="322.9" font-size="10.1" font-weight="bold" stroke="#111" stroke-width="0.45" text-anchor="middle" fill="#111" >CML2</text>
<line x1="361.4" y1="325.5" x2="449.7" y2="325.5" stroke="#111" stroke-width="1.25" />
<text x="371.6" y="370.4" font-size="10.4" font-weight="bold" stroke="#111" stroke-width="0.45" text-anchor="start" fill="#111" transform="rotate(-90 371.6 370.4)" >Control</text>
<text x="390.6" y="370.4" font-size="10.4" font-weight="bold" stroke="#111" stroke-width="0.45" text-anchor="start" fill="#111" transform="rotate(-90 390.6 370.4)" >DA</text>
<text x="407.6" y="370.4" font-size="10.4" font-weight="bold" stroke="#111" stroke-width="0.45" text-anchor="start" fill="#111" transform="rotate(-90 407.6 370.4)" >DA + CQ</text>
<text x="426.20000000000005" y="370.4" font-size="10.4" font-weight="bold" stroke="#111" stroke-width="0.45" text-anchor="start" fill="#111" transform="rotate(-90 426.20000000000005 370.4)" >NL</text>
<text x="443.6" y="370.4" font-size="10.4" font-weight="bold" stroke="#111" stroke-width="0.45" text-anchor="start" fill="#111" transform="rotate(-90 443.6 370.4)" >NL + CQ</text>
<clipPath id="cl13"><rect x="356.5" y="373.8" width="99.7" height="22.2"/></clipPath>
<rect x="356.50" y="373.80" width="99.70" height="22.20" fill="#dedede" stroke="none" stroke-width="1" />
<g clip-path="url(#cl13)">
<rect x="356.50" y="373.80" width="99.70" height="22.20" fill="url(#eg)" stroke="none" stroke-width="1" />
<rect x="360.3" y="381.4" width="14.7" height="3.2" rx="1.6" fill="#0c0c0c" opacity="1" filter="url(#b1)"/>
<rect x="379.8" y="382.9" width="14.6" height="3.4" rx="1.7" fill="#0c0c0c" opacity="1" filter="url(#b1)"/>
<rect x="396.0" y="382.9" width="18.0" height="4.8" rx="2.4" fill="#0c0c0c" opacity="1" filter="url(#b1)"/>
<rect x="415.6" y="382.5" width="13.4" height="3.0" rx="1.5" fill="#0c0c0c" opacity="1" filter="url(#b1)"/>
<rect x="430.6" y="381.9" width="15.7" height="5.4" rx="2.7" fill="#0c0c0c" opacity="1" filter="url(#b1)"/>
</g>
<line x1="377.3" y1="373.8" x2="377.3" y2="396" stroke="#111" stroke-width="1.1" />
<rect x="356.50" y="373.80" width="99.70" height="22.20" fill="none" stroke="#161616" stroke-width="1.3" />
<clipPath id="cl14"><rect x="356.5" y="405.4" width="99.7" height="22.4"/></clipPath>
<rect x="356.50" y="405.40" width="99.70" height="22.40" fill="#dcdcdc" stroke="none" stroke-width="1" />
<g clip-path="url(#cl14)">
<rect x="356.50" y="405.40" width="99.70" height="22.40" fill="url(#eg)" stroke="none" stroke-width="1" />
<rect x="360.3" y="417.2" width="15.7" height="4.0" rx="2.0" fill="#0c0c0c" opacity="1" filter="url(#b1)"/>
<rect x="379.8" y="417.5" width="14.6" height="3.8" rx="1.9" fill="#0c0c0c" opacity="1" filter="url(#b1)"/>
<rect x="396.0" y="417.8" width="16.8" height="3.6" rx="1.8" fill="#0c0c0c" opacity="1" filter="url(#b1)"/>
<rect x="415.6" y="417.2" width="14.4" height="3.6" rx="1.8" fill="#0c0c0c" opacity="1" filter="url(#b1)"/>
<rect x="431.6" y="417.2" width="14.7" height="3.6" rx="1.8" fill="#0c0c0c" opacity="1" filter="url(#b1)"/>
</g>
<line x1="377.3" y1="405.4" x2="377.3" y2="427.8" stroke="#111" stroke-width="1.1" />
<rect x="356.50" y="405.40" width="99.70" height="22.40" fill="none" stroke="#161616" stroke-width="1.3" />
<text x="55.8" y="403.4" font-size="7.8" stroke="#000" stroke-width="0.22" text-anchor="middle" fill="#000" >1</text>
<text x="77.2" y="403.4" font-size="7.8" stroke="#000" stroke-width="0.22" text-anchor="middle" fill="#000" >6.1</text>
<text x="97.5" y="403.4" font-size="7.8" stroke="#000" stroke-width="0.22" text-anchor="middle" fill="#000" >8.38</text>
<text x="119" y="403.4" font-size="7.8" stroke="#000" stroke-width="0.22" text-anchor="middle" fill="#000" >11.85</text>
<text x="155.3" y="404.3" font-size="7.8" stroke="#000" stroke-width="0.22" text-anchor="middle" fill="#000" >1</text>
<text x="177.7" y="404.3" font-size="7.8" stroke="#000" stroke-width="0.22" text-anchor="middle" fill="#000" >1.34</text>
<text x="200" y="404.3" font-size="7.8" stroke="#000" stroke-width="0.22" text-anchor="middle" fill="#000" >2.04</text>
<text x="221.5" y="404.3" font-size="7.8" stroke="#000" stroke-width="0.22" text-anchor="middle" fill="#000" >2.53</text>
<text x="259.7" y="404.3" font-size="7.8" stroke="#000" stroke-width="0.22" text-anchor="middle" fill="#000" >1</text>
<text x="282.3" y="404.3" font-size="7.8" stroke="#000" stroke-width="0.22" text-anchor="middle" fill="#000" >5.28</text>
<text x="304" y="404.3" font-size="7.8" stroke="#000" stroke-width="0.22" text-anchor="middle" fill="#000" >9.85</text>
<text x="325.8" y="404.3" font-size="7.8" stroke="#000" stroke-width="0.22" text-anchor="middle" fill="#000" >12.26</text>
<text x="366.2" y="404.3" font-size="7.8" stroke="#000" stroke-width="0.22" text-anchor="middle" fill="#000" >1</text>
<text x="387.7" y="404.3" font-size="7.8" stroke="#000" stroke-width="0.22" text-anchor="middle" fill="#000" >1.43</text>
<text x="406.5" y="404.3" font-size="7.8" stroke="#000" stroke-width="0.22" text-anchor="middle" fill="#000" >2.04</text>
<text x="423.2" y="404.3" font-size="7.8" stroke="#000" stroke-width="0.22" text-anchor="middle" fill="#000" >1.7</text>
<text x="440.8" y="404.3" font-size="7.8" stroke="#000" stroke-width="0.22" text-anchor="middle" fill="#000" >2.02</text>
<text x="466" y="389.6" font-size="10.5" font-weight="bold" stroke="#111" stroke-width="0.45" text-anchor="start" fill="#111" >LC3-II</text>
<text x="466" y="423" font-size="10.5" font-weight="bold" stroke="#111" stroke-width="0.45" text-anchor="start" fill="#111" >ACTIN</text>
</g>
<g id="panelD">
<text x="-0.3" y="455.5" font-size="11" font-weight="bold" stroke="#111" stroke-width="0.45" text-anchor="start" fill="#111" >D</text>
<line x1="110.86000000000006" y1="553" x2="239.86000000000007" y2="553" stroke="#b0b0b0" stroke-width="0.9" />
<line x1="91.96000000000005" y1="562" x2="220.96000000000004" y2="562" stroke="#b0b0b0" stroke-width="0.9" />
<line x1="72.63999999999996" y1="571.2" x2="201.63999999999996" y2="571.2" stroke="#b0b0b0" stroke-width="0.9" />
<line x1="53.32000000000009" y1="580.4" x2="182.3200000000001" y2="580.4" stroke="#b0b0b0" stroke-width="0.9" />
<line x1="34.0" y1="589.6" x2="163.0" y2="589.6" stroke="#b0b0b0" stroke-width="0.9" />
<line x1="34" y1="589.6" x2="110.86000000000006" y2="553" stroke="#9a9a9a" stroke-width="0.9" />
<line x1="79" y1="589.6" x2="155.86000000000007" y2="553" stroke="#9a9a9a" stroke-width="0.9" />
<line x1="129" y1="589.6" x2="205.86000000000007" y2="553" stroke="#9a9a9a" stroke-width="0.9" />
<line x1="163" y1="589.6" x2="239.86000000000007" y2="553" stroke="#9a9a9a" stroke-width="0.9" />
<line x1="47.5" y1="589.6" x2="124.36000000000006" y2="553" stroke="#cfcfcf" stroke-width="0.8" />
<line x1="61" y1="589.6" x2="137.86000000000007" y2="553" stroke="#cfcfcf" stroke-width="0.8" />
<line x1="94" y1="589.6" x2="170.86000000000007" y2="553" stroke="#cfcfcf" stroke-width="0.8" />
<line x1="109" y1="589.6" x2="185.86000000000007" y2="553" stroke="#cfcfcf" stroke-width="0.8" />
<line x1="139" y1="589.6" x2="215.86000000000007" y2="553" stroke="#cfcfcf" stroke-width="0.8" />
<line x1="150" y1="589.6" x2="226.86000000000007" y2="553" stroke="#cfcfcf" stroke-width="0.8" />
<polygon points="177.7,552.7 177.9,552.4 178.4,552.1 178.6,551.8 179.3,551.2 179.9,550.6 180.1,550.0 180.6,549.0 180.3,547.9 180.9,546.9 181.6,545.2 182.3,543.6 182.8,541.9 183.4,537.8 183.6,533.6 184.5,529.5 185.0,525.6 185.2,521.8 186.0,517.9 186.8,514.0 187.1,510.2 187.2,506.3 187.8,502.5 188.1,498.6 188.8,494.7 189.6,491.6 189.9,488.5 190.4,485.4 190.9,483.4 191.0,481.3 191.0,479.3 191.0,478.0 191.1,476.7 191.2,475.4 191.7,475.4 192.0,476.7 192.0,478.0 192.4,479.3 193.2,481.3 193.5,483.4 194.2,485.4 194.6,488.5 195.4,491.6 195.9,494.7 196.0,498.6 196.5,502.5 196.9,506.3 197.4,510.2 198.7,514.0 199.0,517.9 199.6,521.8 200.4,525.6 201.2,529.5 202.0,533.6 202.6,537.8 203.6,541.9 204.0,543.6 203.8,545.2 204.4,546.9 204.3,547.9 205.2,549.0 205.3,550.0 205.6,550.6 205.9,551.2 206.7,551.8 207.2,552.1 208.0,552.4 208.5,552.7" fill="#343434"/>
<polygon points="155.6,561.5 156.2,561.2 156.1,560.9 156.7,560.6 157.4,560.0 157.3,559.4 158.0,558.8 158.4,557.8 158.3,556.8 159.0,555.8 158.7,554.1 159.5,552.5 159.3,550.8 159.9,546.8 160.7,542.7 161.7,538.7 162.6,534.9 163.0,531.1 163.2,527.3 163.4,523.5 164.2,519.6 164.2,515.8 164.7,512.0 165.2,508.2 165.6,504.4 165.5,501.4 166.2,498.3 166.0,495.3 166.4,493.3 166.9,491.2 166.8,489.2 167.3,487.9 167.0,486.7 167.4,485.4 167.9,485.4 168.5,486.7 168.3,487.9 169.2,489.2 169.6,491.2 169.8,493.3 169.8,495.3 170.0,498.3 171.4,501.4 171.6,504.4 171.7,508.2 172.7,512.0 173.0,515.8 173.6,519.6 174.0,523.5 174.8,527.3 175.6,531.1 176.8,534.9 177.4,538.7 177.8,542.7 178.4,546.8 179.1,550.8 179.7,552.5 179.7,554.1 180.6,555.8 181.0,556.8 181.1,557.8 181.7,558.8 181.7,559.4 182.2,560.0 182.9,560.6 183.0,560.9 183.5,561.2 184.0,561.5" fill="#565656"/>
<polygon points="133.8,570.7 134.4,570.4 134.6,570.1 135.2,569.8 136.0,569.2 136.2,568.6 136.5,568.0 136.7,567.0 137.5,565.9 137.8,564.9 137.9,563.2 138.6,561.6 138.5,559.9 139.2,555.8 139.3,551.7 139.7,547.5 140.5,543.2 141.1,538.8 141.6,534.4 142.2,531.1 142.7,527.7 142.6,524.4 142.5,520.5 142.9,516.7 143.3,512.8 143.5,510.2 143.4,507.7 143.7,505.1 143.9,503.8 143.7,502.5 144.2,501.2 144.8,499.3 145.4,499.7 146.0,501.2 146.8,498.9 147.8,494.7 148.5,493.5 148.9,493.5 149.5,494.8 149.0,496.1 149.4,497.4 149.8,499.4 150.2,501.5 150.7,503.5 151.0,506.6 151.8,509.7 152.1,512.8 152.8,516.7 152.8,520.5 153.3,524.4 153.5,528.2 154.8,532.1 155.2,536.0 155.4,539.8 156.5,543.7 156.9,547.5 157.7,551.7 157.7,555.8 158.5,559.9 158.4,561.6 159.0,563.2 159.3,564.9 159.2,565.9 159.5,567.0 159.8,568.0 160.5,568.6 160.6,569.2 161.5,569.8 161.8,570.1 162.3,570.4 162.3,570.7" fill="#a0a0a0"/>
<polygon points="109.2,580.0 109.9,579.7 109.5,579.4 110.2,579.1 111.1,578.5 111.1,577.9 111.9,577.3 111.9,576.3 112.3,575.3 112.9,574.3 113.0,572.6 113.7,571.0 113.7,569.3 114.0,565.3 115.0,561.2 115.5,557.1 116.3,553.3 116.7,549.5 117.4,545.7 118.1,541.9 118.3,538.1 119.3,534.3 119.4,530.5 119.9,526.7 120.6,522.9 121.3,519.8 121.6,516.8 122.1,513.7 122.2,511.7 122.6,509.6 122.7,507.6 122.9,506.3 122.9,505.1 123.2,503.8 123.7,503.8 124.0,505.1 124.4,506.3 124.5,507.6 124.9,509.6 126.0,511.7 126.3,513.7 126.6,516.8 127.1,519.8 127.2,522.9 128.1,526.7 128.3,530.5 129.4,534.3 129.8,538.1 130.0,541.9 130.6,545.7 131.7,549.5 132.2,553.3 133.1,557.1 133.5,561.2 134.8,565.3 135.1,569.3 135.2,571.0 135.9,572.6 136.0,574.3 136.6,575.3 136.6,576.3 136.9,577.3 137.4,577.9 137.6,578.5 138.3,579.1 139.1,579.4 139.7,579.7 140.0,580.0" fill="#d4d4d4"/>
<polygon points="33.5,588.3 34.5,587.8 37.5,587.4 41.0,585.6 43.6,581.5 46.2,575.0 48.0,568.5 49.7,561.0 51.5,552.5 53.2,543.7 54.6,535.5 55.8,528.0 56.6,523.6 57.5,521.8 58.5,521.6 59.3,520.5 60.0,515.5 61.0,512.2 62.4,512.0 63.7,513.0 64.8,515.6 65.7,519.2 66.6,524.0 67.5,529.7 68.7,536.8 69.8,543.7 71.1,551.8 72.4,559.4 73.7,566.8 75.0,573.3 76.3,578.8 77.6,583.0 79.2,585.8 81.1,587.3 84.0,588.6 88.0,589.2 100.0,589.8 100,592 33,592" fill="#fff"/>
<polyline points="33.5,588.3 34.5,587.8 37.5,587.4 41.0,585.6 43.6,581.5 46.2,575.0 48.0,568.5 49.7,561.0 51.5,552.5 53.2,543.7 54.6,535.5 55.8,528.0 56.6,523.6 57.5,521.8 58.5,521.6 59.3,520.5 60.0,515.5 61.0,512.2 62.4,512.0 63.7,513.0 64.8,515.6 65.7,519.2 66.6,524.0 67.5,529.7 68.7,536.8 69.8,543.7 71.1,551.8 72.4,559.4 73.7,566.8 75.0,573.3 76.3,578.8 77.6,583.0 79.2,585.8 81.1,587.3 84.0,588.6 88.0,589.2 100.0,589.8" fill="none" stroke="#949494" stroke-width="2.3" stroke-linejoin="round" stroke-linecap="round"/>
<line x1="100" y1="590.3" x2="165" y2="590.3" stroke="#aaa" stroke-width="0.8" />
<line x1="34" y1="590" x2="34" y2="594.5" stroke="#333" stroke-width="1.1" />
<line x1="47.546349804879156" y1="590.8" x2="47.546349804879156" y2="593.4" stroke="#444" stroke-width="0.8" />
<line x1="55.47045646238481" y1="590.8" x2="55.47045646238481" y2="593.4" stroke="#444" stroke-width="0.8" />
<line x1="61.09269960975831" y1="590.8" x2="61.09269960975831" y2="593.4" stroke="#444" stroke-width="0.8" />
<line x1="65.45365019512084" y1="590.8" x2="65.45365019512084" y2="593.4" stroke="#444" stroke-width="0.8" />
<line x1="69.01680626726397" y1="590.8" x2="69.01680626726397" y2="593.4" stroke="#444" stroke-width="0.8" />
<line x1="72.02941180064155" y1="590.8" x2="72.02941180064155" y2="593.4" stroke="#444" stroke-width="0.8" />
<line x1="74.63904941463747" y1="590.8" x2="74.63904941463747" y2="593.4" stroke="#444" stroke-width="0.8" />
<line x1="76.94091292476962" y1="590.8" x2="76.94091292476962" y2="593.4" stroke="#444" stroke-width="0.8" />
<line x1="79" y1="590" x2="79" y2="594.5" stroke="#333" stroke-width="1.1" />
<line x1="94.05149978319906" y1="590.8" x2="94.05149978319906" y2="593.4" stroke="#444" stroke-width="0.8" />
<line x1="102.85606273598313" y1="590.8" x2="102.85606273598313" y2="593.4" stroke="#444" stroke-width="0.8" />
<line x1="109.10299956639813" y1="590.8" x2="109.10299956639813" y2="593.4" stroke="#444" stroke-width="0.8" />
<line x1="113.94850021680094" y1="590.8" x2="113.94850021680094" y2="593.4" stroke="#444" stroke-width="0.8" />
<line x1="117.90756251918218" y1="590.8" x2="117.90756251918218" y2="593.4" stroke="#444" stroke-width="0.8" />
<line x1="121.25490200071283" y1="590.8" x2="121.25490200071283" y2="593.4" stroke="#444" stroke-width="0.8" />
<line x1="124.15449934959717" y1="590.8" x2="124.15449934959717" y2="593.4" stroke="#444" stroke-width="0.8" />
<line x1="126.71212547196625" y1="590.8" x2="126.71212547196625" y2="593.4" stroke="#444" stroke-width="0.8" />
<line x1="129" y1="590" x2="129" y2="594.5" stroke="#333" stroke-width="1.1" />
<line x1="142.54634980487916" y1="590.8" x2="142.54634980487916" y2="593.4" stroke="#444" stroke-width="0.8" />
<line x1="150.47045646238482" y1="590.8" x2="150.47045646238482" y2="593.4" stroke="#444" stroke-width="0.8" />
<line x1="156.0926996097583" y1="590.8" x2="156.0926996097583" y2="593.4" stroke="#444" stroke-width="0.8" />
<line x1="160.45365019512084" y1="590.8" x2="160.45365019512084" y2="593.4" stroke="#444" stroke-width="0.8" />
<line x1="164.01680626726397" y1="590.8" x2="164.01680626726397" y2="593.4" stroke="#444" stroke-width="0.8" />
<text x="23.6" y="603.3" font-size="7.6" text-anchor="start" fill="#111" style="font-family:'DejaVu Sans',sans-serif" font-weight="bold" letter-spacing="1.3">10<tspan dy="-2.4" font-size="6">0</tspan></text>
<text x="72" y="603.3" font-size="7.6" text-anchor="start" fill="#111" style="font-family:'DejaVu Sans',sans-serif" font-weight="bold" letter-spacing="1.3">10<tspan dy="-2.4" font-size="6">1</tspan></text>
<text x="119.6" y="603.3" font-size="7.6" text-anchor="start" fill="#111" style="font-family:'DejaVu Sans',sans-serif" font-weight="bold" letter-spacing="1.3">10<tspan dy="-2.4" font-size="6">2</tspan></text>
<text x="88" y="616.2" font-size="9.5" font-weight="bold" stroke="#111" stroke-width="0.45" text-anchor="middle" fill="#111" >Fluorescence Intensity of</text>
<text x="88" y="628" font-size="9.5" font-weight="bold" stroke="#111" stroke-width="0.45" text-anchor="middle" fill="#111" >Autophagy</text>
<text x="85.5" y="512.5" font-size="7.5" font-weight="bold" stroke="#111" stroke-width="0.45" text-anchor="start" fill="#111" >No</text>
<text x="85.5" y="522.7" font-size="7.5" font-weight="bold" stroke="#111" stroke-width="0.45" text-anchor="start" fill="#111" >treatment</text>
<text x="128.8" y="501.7" font-size="7.5" font-weight="bold" stroke="#111" stroke-width="0.45" text-anchor="start" fill="#111" >IM</text>
<text x="149" y="490.8" font-size="7.5" font-weight="bold" stroke="#111" stroke-width="0.45" text-anchor="start" fill="#111" >CQ</text>
<text x="163.5" y="477.5" font-size="7.5" font-weight="bold" stroke="#111" stroke-width="0.45" text-anchor="start" fill="#111" >IM+CQ</text>
<text x="264.3" y="532.7" font-size="9.8" font-weight="bold" stroke="#111" stroke-width="0.45" text-anchor="middle" fill="#111" transform="rotate(-90 264.3 532.7)" >Mean Fluorescence</text>
<text x="275.2" y="531" font-size="9.8" font-weight="bold" stroke="#111" stroke-width="0.45" text-anchor="middle" fill="#111" transform="rotate(-90 275.2 531)" >Intensity of Autophagy (%)</text>
<linearGradient id="g1" x1="0" x2="1" y1="0" y2="0"><stop offset="0" stop-color="#a8a8a8"/><stop offset="0.5" stop-color="#d6d6d6"/><stop offset="1" stop-color="#a8a8a8"/></linearGradient>
<rect x="315.40" y="531.85" width="17.20" height="67.15" fill="url(#g1)" stroke="#a8a8a8" stroke-width="0.6" />
<linearGradient id="g2" x1="0" x2="1" y1="0" y2="0"><stop offset="0" stop-color="#555"/><stop offset="0.5" stop-color="#7a7a7a"/><stop offset="1" stop-color="#555"/></linearGradient>
<rect x="358.50" y="518.42" width="17.20" height="80.58" fill="url(#g2)" stroke="#555" stroke-width="0.6" />
<rect x="316.20" y="532.15" width="15.60" height="2.60" fill="#e9e9e9" stroke="none" stroke-width="1" />
<rect x="359.30" y="518.72" width="15.60" height="2.40" fill="#9a9a9a" stroke="none" stroke-width="1" />
<rect x="401.70" y="514.39" width="16.60" height="84.61" fill="#000" stroke="none" stroke-width="1" />
<rect x="444.00" y="489.41" width="17.20" height="109.59" fill="#000" stroke="none" stroke-width="1" />
<line x1="324" y1="530.5070000000001" x2="324" y2="533.193" stroke="#111" stroke-width="1" />
<line x1="321.5" y1="530.5070000000001" x2="326.5" y2="530.5070000000001" stroke="#111" stroke-width="1" />
<line x1="367" y1="514.1224" x2="367" y2="521.6432" stroke="#111" stroke-width="1" />
<line x1="364.5" y1="514.1224" x2="369.5" y2="514.1224" stroke="#111" stroke-width="1" />
<line x1="410" y1="511.705" x2="410" y2="517.077" stroke="#111" stroke-width="1" />
<line x1="407.5" y1="511.705" x2="412.5" y2="511.705" stroke="#111" stroke-width="1" />
<line x1="452.5" y1="484.0392" x2="452.5" y2="492.6344" stroke="#111" stroke-width="1" />
<line x1="450.0" y1="484.0392" x2="455.0" y2="484.0392" stroke="#111" stroke-width="1" />
<line x1="321.5" y1="533.193" x2="326.5" y2="533.193" stroke="#111" stroke-width="1" />
<line x1="364.5" y1="522.1804" x2="369.5" y2="522.1804" stroke="#111" stroke-width="1" />
<line x1="302.4" y1="462" x2="302.4" y2="601" stroke="#666" stroke-width="1" />
<line x1="300" y1="599" x2="468" y2="599" stroke="#666" stroke-width="1" />
<line x1="300" y1="599.0" x2="302.4" y2="599.0" stroke="#666" stroke-width="1" />
<text x="296.5" y="602.6" font-size="10" font-weight="bold" stroke="#111" stroke-width="0.45" text-anchor="end" fill="#111" textLength="5.1" lengthAdjust="spacingAndGlyphs">0</text>
<line x1="300" y1="572.14" x2="302.4" y2="572.14" stroke="#666" stroke-width="1" />
<text x="296.5" y="575.74" font-size="10" font-weight="bold" stroke="#111" stroke-width="0.45" text-anchor="end" fill="#111" textLength="10.2" lengthAdjust="spacingAndGlyphs">10</text>
<line x1="300" y1="545.28" x2="302.4" y2="545.28" stroke="#666" stroke-width="1" />
<text x="296.5" y="548.88" font-size="10" font-weight="bold" stroke="#111" stroke-width="0.45" text-anchor="end" fill="#111" textLength="10.2" lengthAdjust="spacingAndGlyphs">20</text>
<line x1="300" y1="518.42" x2="302.4" y2="518.42" stroke="#666" stroke-width="1" />
<text x="296.5" y="522.02" font-size="10" font-weight="bold" stroke="#111" stroke-width="0.45" text-anchor="end" fill="#111" textLength="10.2" lengthAdjust="spacingAndGlyphs">30</text>
<line x1="300" y1="491.56" x2="302.4" y2="491.56" stroke="#666" stroke-width="1" />
<text x="296.5" y="495.16" font-size="10" font-weight="bold" stroke="#111" stroke-width="0.45" text-anchor="end" fill="#111" textLength="10.2" lengthAdjust="spacingAndGlyphs">40</text>
<line x1="300" y1="464.7" x2="302.4" y2="464.7" stroke="#666" stroke-width="1" />
<text x="296.5" y="468.3" font-size="10" font-weight="bold" stroke="#111" stroke-width="0.45" text-anchor="end" fill="#111" textLength="10.2" lengthAdjust="spacingAndGlyphs">50</text>
<text x="328.4" y="610.3" font-size="9.5" font-weight="bold" stroke="#111" stroke-width="0.45" text-anchor="middle" fill="#111" >No</text>
<text x="328.4" y="622.3" font-size="9.5" font-weight="bold" stroke="#111" stroke-width="0.45" text-anchor="middle" fill="#111" >treatment</text>
<text x="369" y="610.3" font-size="9.5" font-weight="bold" stroke="#111" stroke-width="0.45" text-anchor="middle" fill="#111" >IM</text>
<text x="410.7" y="610.3" font-size="9.5" font-weight="bold" stroke="#111" stroke-width="0.45" text-anchor="middle" fill="#111" >CQ</text>
<text x="454.5" y="610.3" font-size="9.5" font-weight="bold" stroke="#111" stroke-width="0.45" text-anchor="middle" fill="#111" >IM+CQ</text>
<polyline points="326.2,518.0 326.2,453.0 367.7,453.0 367.7,507.3" fill="none" stroke="#222" stroke-width="1" />
<text x="347.8" y="450.8" font-size="7.7" stroke="#000" stroke-width="0.22" text-anchor="middle" fill="#000" >P=0.035</text>
<polyline points="371.2,507.3 371.2,453.0 452.5,453.0 452.5,464.2" fill="none" stroke="#222" stroke-width="1" />
<text x="411.7" y="450.8" font-size="7.7" stroke="#000" stroke-width="0.22" text-anchor="middle" fill="#000" >P=0.007</text>
<polyline points="410.5,505.0 410.5,468.9 452.5,468.9 452.5,479.0" fill="none" stroke="#222" stroke-width="1" />
<text x="433.5" y="466" font-size="7.7" stroke="#000" stroke-width="0.22" text-anchor="middle" fill="#000" >P=0.037</text>
</g>
</svg>
</body></html>
